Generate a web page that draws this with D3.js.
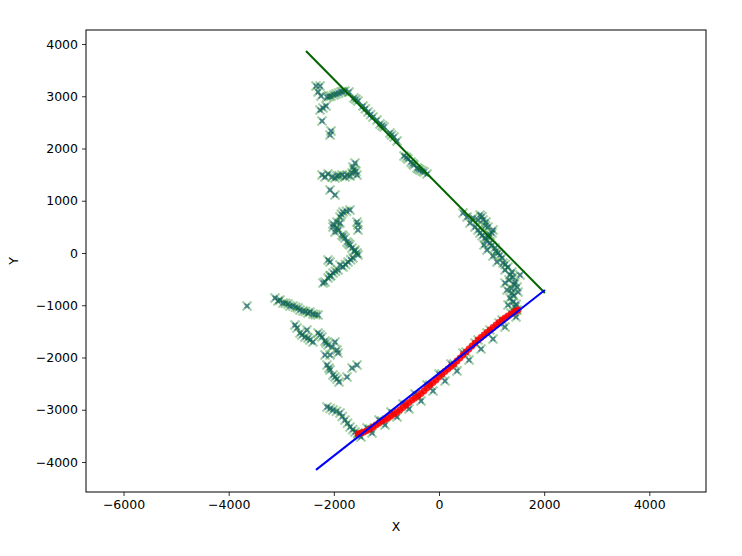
<!DOCTYPE html>
<html><head><meta charset="utf-8">
<script src="https://cdn.jsdelivr.net/npm/d3@7"></script>
<style>body{margin:0;background:#fff}svg{display:block}text{font-family:"DejaVu Sans",sans-serif}</style>
</head><body><svg id="c" width="742" height="556"></svg>
<script>
// ---- data ----
const xTicks = [-6000, -4000, -2000, 0, 2000, 4000];
const yTicks = [-4000, -3000, -2000, -1000, 0, 1000, 2000, 3000, 4000];
const xDomain = [-6714, 5078];
const yDomain = [-4574, 4268];

// observed points (blue/green crosses)
const points = [
 [-2339,3196],[-2263,3196],[-2301,3082],[-2244,3005],[-2130,2986],[-2054,3005],[-1959,3043],[-1864,3082],[-1788,3101],[-1712,3082],
 [-2090,2995],[-2000,3025],[-1910,3060],[-1830,3090],
 [-2263,2737],[-2206,2775],[-2149,2814],[-2225,2526],[-2054,2335],[-2073,2258],
 [-1617,2967],[-1541,2909],[-1446,2814],[-1350,2699],[-1255,2603],[-1179,2546],[-1122,2469],[-1046,2412],[-932,2297],[-856,2220],[-799,2144],
 [-1580,2940],[-1400,2760],[-1300,2650],[-1080,2440],[-900,2260],
 [-666,1857],[-590,1799],[-533,1742],[-476,1684],[-418,1627],[-361,1589],[-285,1550],[-228,1512],
 [-620,1830],[-500,1710],[-390,1610],[-320,1570],
 [-2225,1493],[-2168,1455],[-2035,1455],[-1940,1474],[-1845,1493],[-1750,1493],[-1655,1531],[-1636,1646],[-1598,1723],[-1560,1493],
 [-2111,1512],[-1978,1436],[-1788,1455],[-1693,1474],[-1900,1480],[-1620,1590],[-1580,1560],
 [-2073,1206],[-1978,1110],
 [-1826,785],[-1883,689],[-1940,593],[-2016,555],[-1693,823],[-1560,593],[-1541,536],[-1760,800],[-1855,740],
 [-1883,574],[-2016,498],[-1978,402],[-1845,345],[-1750,211],[-1655,96],[-1560,0],[-1541,-38],[-1636,-96],[-1731,-172],
 [-1826,-268],[-1921,-325],[-2016,-383],[-2111,-479],[-2168,-555],[-2206,-574],[-2111,-134],[-2073,-172],[-1541,440],
 [-1940,478],[-1788,287],[-1693,153],[-1598,57],[-1883,-230],[-2073,-440],
 [-1910,440],[-1820,320],[-1720,180],[-1610,30],[-1680,-130],[-1780,-220],[-1970,-350],[-2060,-430],
 [-3652,-1014],
 [-3119,-861],[-3062,-919],[-2967,-957],[-2872,-976],[-2777,-1014],[-2682,-1053],[-2587,-1110],[-2492,-1148],[-2397,-1168],[-2301,-1187],
 [-3024,-900],[-2834,-1014],[-2644,-1091],[-2454,-1129],[-2920,-960],[-2730,-1040],[-2540,-1120],[-2350,-1180],
 [-2739,-1378],[-2701,-1436],[-2644,-1531],[-2549,-1608],[-2454,-1665],[-2397,-1703],[-2511,-1474],[-2606,-1569],[-2492,-1627],
 [-2301,-1531],[-2225,-1608],[-2168,-1684],[-2111,-1761],[-2035,-1799],[-1978,-1703],[-2263,-1569],[-2149,-1723],
 [-2168,-1952],[-2073,-1952],[-1940,-1857],[-1921,-1914],
 [-2130,-2144],[-2073,-2239],[-2016,-2335],[-1940,-2412],[-1902,-2469],[-1750,-2373],[-1655,-2201],[-1560,-2144],[-2092,-2201],[-1978,-2373],
 [-2130,-2948],[-2016,-3005],[-1883,-3062],[-1788,-3196],[-1693,-3330],[-1598,-3426],[-1541,-3445],
 [-2070,-2975],[-1950,-3030],[-1840,-3130],[-1740,-3260],[-1640,-3380],
 [-1484,-3522],[-1274,-3445],[-1027,-3292],[-799,-3139],[-571,-2986],[-342,-2833],[-114,-2641],[114,-2450],[342,-2258],[571,-2048],
 [799,-1837],[1027,-1646],[1255,-1416],[1465,-1225],
 [-1369,-3350],[-1141,-3196],[-913,-3043],[-685,-2890],[-456,-2699],[-228,-2526],[0,-2316],[228,-2125],[456,-1914],[685,-1723],
 [913,-1531],[1141,-1340],[1369,-1148],
 [-1541,-3464],[-1312,-3369],[-1084,-3216],[-856,-3082],[-628,-2909],[-399,-2737],[-171,-2526],[57,-2316],[285,-2125],[514,-1895],
 [742,-1665],[970,-1474],[1198,-1282],[1427,-1129],
 [456,766],[533,689],[780,727],[837,632],[932,498],[1027,440],[1008,383],[932,306],[875,287],[970,191],[1065,96],[1122,0],
 [1198,-96],[1217,-191],[1312,-268],[1388,-364],[1407,-459],[1446,-555],[1484,-651],[1388,-766],[1350,-861],[1407,-938],
 [1446,-1034],[1484,-1091],[742,632],[685,498],[780,383],[590,574],[1255,-574],[1293,-708],
 [647,670],[894,593],[742,440],[856,153],[913,57],[1027,-57],[1103,-172],[1255,-325],[1331,-517],[1503,-746],[1312,-995],[1541,-421],
 [820,700],[880,520],[960,360],[820,330],[900,240],[1000,140],[1080,30],[1160,-40],[1260,-220],[1350,-420],[1430,-600],[1420,-820],[1470,-980],[1380,-680]
];

// inlier points (red)
const redPoints = [
 [-1541,-3464],[-1427,-3426],[-1312,-3369],[-1198,-3292],[-1084,-3216],[-970,-3158],[-856,-3082],[-742,-3005],[-628,-2909],
 [-514,-2814],[-399,-2737],[-285,-2641],[-171,-2526],[-57,-2431],[57,-2316],[171,-2220],[285,-2125],[399,-2010],[514,-1895],
 [628,-1780],[742,-1665],[856,-1569],[970,-1474],[1084,-1378],[1198,-1282],[1312,-1206],[1427,-1129],[1503,-1091]
];
const redPoints2 = [
 [-1484,-3445],[-1369,-3398],[-1255,-3330],[-1141,-3254],[-1027,-3187],[-913,-3120],[-799,-3043],[-685,-2957],[-571,-2862],
 [-456,-2776],[-342,-2689],[-228,-2584],[-114,-2479],[0,-2374],[114,-2268],[228,-2172],[342,-2067],[456,-1952],[571,-1837],
 [685,-1723],[799,-1617],[913,-1521],[1027,-1426],[1141,-1330],[1255,-1244],[1369,-1168],[1465,-1110]
];

const greenLine = [[-2530,3866],[2014,-766]];
const blueLine = [[-2340,-4150],[2014,-708]];

// ---- chart ----
const L = 86, R = 706, T = 30, B = 492;
const svg = d3.select("#c");
const x = d3.scaleLinear().domain(xDomain).range([L, R]);
const y = d3.scaleLinear().domain(yDomain).range([B, T]);

svg.append("defs").append("clipPath").attr("id","clip")
  .append("rect").attr("x",L).attr("y",T).attr("width",R-L).attr("height",B-T);
const g = svg.append("g").attr("clip-path","url(#clip)");

function cross(size) {
  const h = size/2;
  return `M${-h},${-h}L${h},${h}M${-h},${h}L${h},${-h}`;
}
g.selectAll("path.g").data(points).join("path")
  .attr("transform", d => `translate(${x(d[0])},${y(d[1])})`)
  .attr("d", cross(9)).attr("stroke", "#008000").attr("stroke-width", 2.2)
  .attr("fill","none").attr("opacity", 0.35);
g.selectAll("path.b").data(points).join("path")
  .attr("transform", d => `translate(${x(d[0])},${y(d[1])})`)
  .attr("d", cross(5)).attr("stroke", "#3030ff").attr("stroke-width", 1.2)
  .attr("fill","none").attr("opacity", 0.55);
g.selectAll("path.g2").data(points).join("path")
  .attr("transform", d => `translate(${x(d[0])},${y(d[1])})`)
  .attr("d", cross(4)).attr("stroke", "#008000").attr("stroke-width", 2)
  .attr("fill","none").attr("opacity", 0.35);

g.selectAll("circle.r").data(redPoints.concat(redPoints2)).join("circle")
  .attr("cx", d => x(d[0])).attr("cy", d => y(d[1])).attr("r", 3.4)
  .attr("fill", "#ff0000").attr("opacity", 0.85);

const line = d3.line().x(d => x(d[0])).y(d => y(d[1]));
g.append("path").datum(greenLine).attr("d", line).attr("stroke", "#006400").attr("stroke-width", 2).attr("fill","none");
g.append("path").datum(blueLine).attr("d", line).attr("stroke", "#0000ff").attr("stroke-width", 2).attr("fill","none");

// axes
const fmt = d3.format("d");
const xa = svg.append("g").attr("transform", `translate(0,${B})`)
  .call(d3.axisBottom(x).tickValues(xTicks).tickSize(4).tickPadding(4).tickFormat(d => fmt(d)));
const ya = svg.append("g").attr("transform", `translate(${L},0)`)
  .call(d3.axisLeft(y).tickValues(yTicks).tickSize(4).tickPadding(4).tickFormat(d => fmt(d)));
[xa, ya].forEach(a => {
  a.selectAll("text").attr("font-size", 12.5).attr("fill", "#000").attr("font-family", "DejaVu Sans");
  a.select(".domain").remove();
  a.selectAll("line").attr("stroke", "#000").attr("stroke-width", 0.8);
});
svg.append("rect").attr("x", L).attr("y", T).attr("width", R-L).attr("height", B-T)
  .attr("fill","none").attr("stroke","#000").attr("stroke-width",1);

svg.append("text").attr("x", (L+R)/2).attr("y", 531).attr("text-anchor","middle")
  .attr("font-size", 12.5).text("X");
svg.append("text").attr("transform", `translate(18,${(T+B)/2}) rotate(-90)`).attr("text-anchor","middle")
  .attr("font-size", 12.5).text("Y");
</script></body></html>
